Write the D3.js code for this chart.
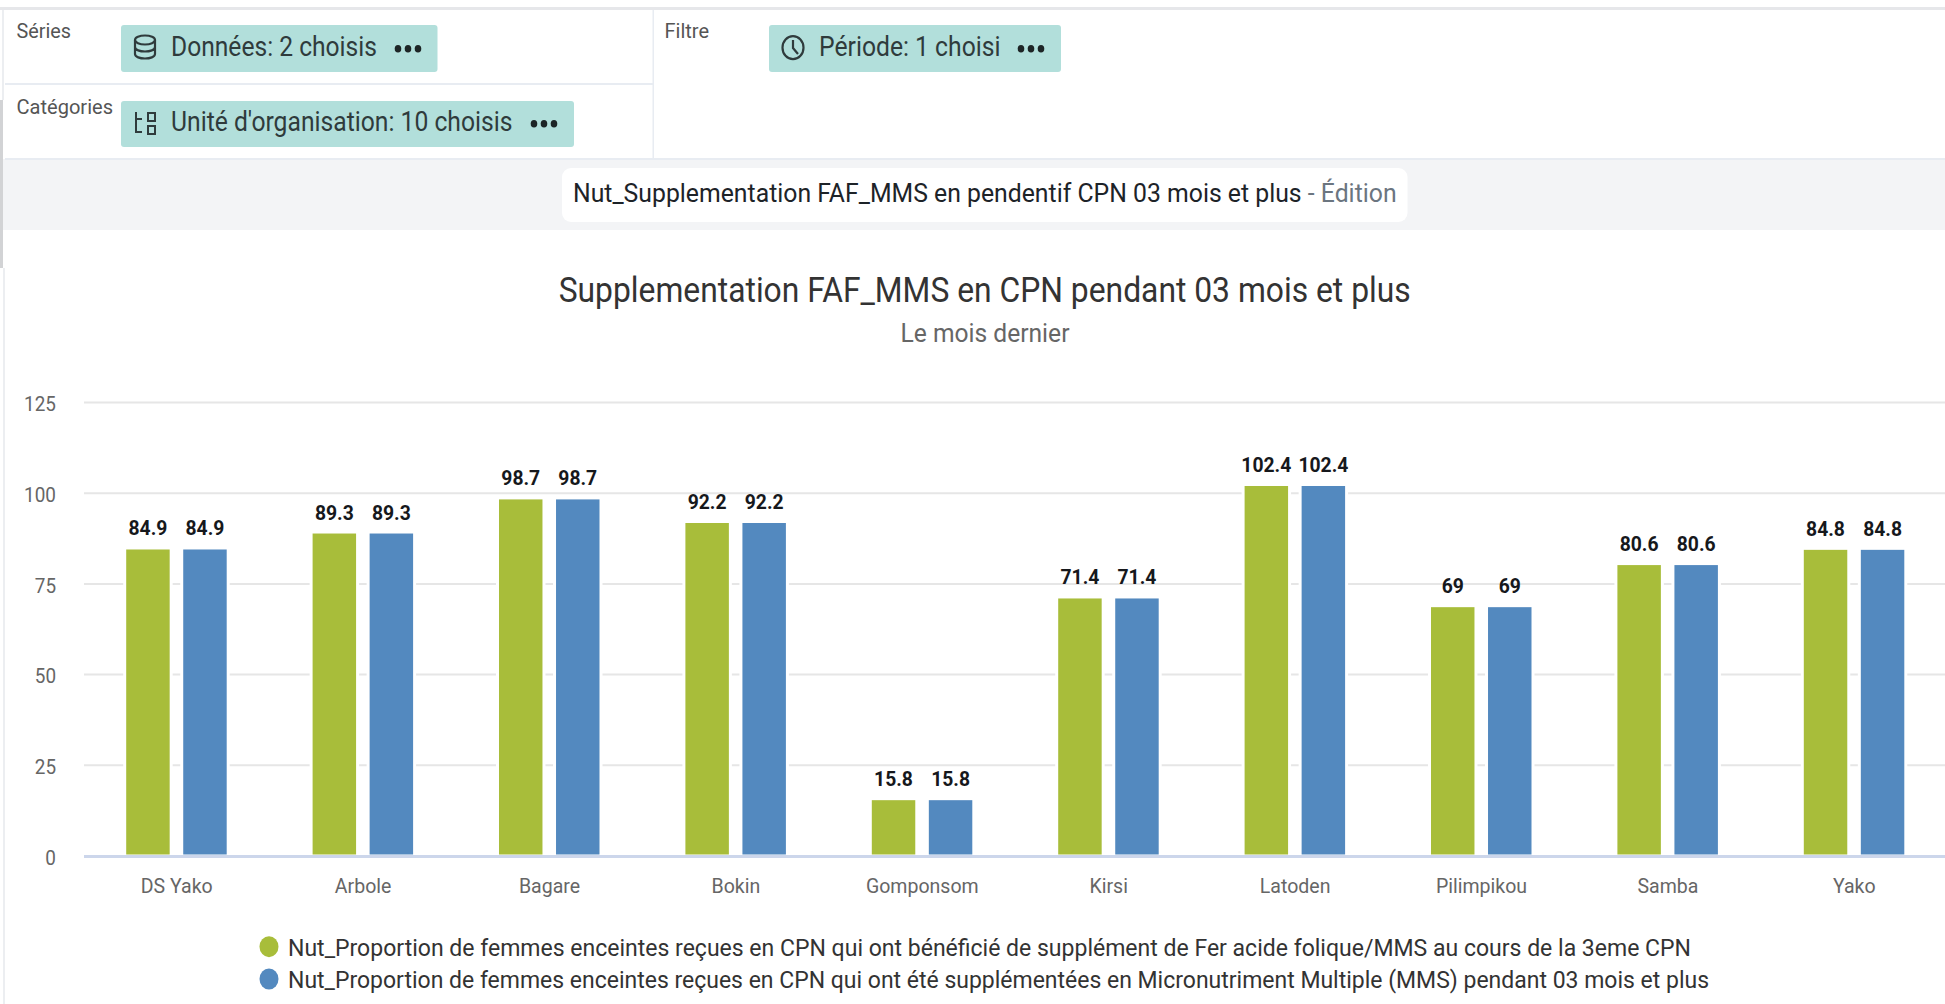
<!DOCTYPE html>
<html lang="fr"><head><meta charset="utf-8">
<script src="https://cdn.jsdelivr.net/npm/d3@7/dist/d3.min.js"></script>
<style>html,body{margin:0;padding:0;background:#fff;overflow:hidden}svg{display:block;font-family:Roboto,sans-serif}</style>
</head><body><svg id="c" width="1945" height="1004"></svg>
<script>
const categories=["DS Yako","Arbole","Bagare","Bokin","Gomponsom","Kirsi","Latoden","Pilimpikou","Samba","Yako"];
const seriesFAF=[84.9,89.3,98.7,92.2,15.8,71.4,102.4,69,80.6,84.8];
const seriesMMS=[84.9,89.3,98.7,92.2,15.8,71.4,102.4,69,80.6,84.8];
const seriesNames=["Nut_Proportion de femmes enceintes reçues en CPN qui ont bénéficié de supplément de Fer acide folique/MMS au cours de la 3eme CPN","Nut_Proportion de femmes enceintes reçues en CPN qui ont été supplémentées en Micronutriment Multiple (MMS) pendant 03 mois et plus"];
const seriesColors=["#a8bd3a","#5389bf"];
const yTicks=[0,25,50,75,100,125];
const svg=d3.select("#c");
const fit=(t,x0,x1)=>t.attr("x",x0).attr("textLength",x1-x0).attr("lengthAdjust","spacingAndGlyphs");
const text=(s,x0,x1,base,size,fill,weight)=>fit(svg.append("text").attr("y",base).attr("font-size",size).attr("fill",fill).attr("font-weight",weight||400).text(s),x0,x1);

// header panel
svg.append("rect").attr("x",0).attr("y",7).attr("width",1945).attr("height",3).attr("fill","#e6e7ea");
svg.append("rect").attr("x",3).attr("y",159).attr("width",1942).attr("height",71).attr("fill","#f3f4f6");
svg.append("rect").attr("x",5).attr("y",83).attr("width",648).attr("height",2).attr("fill","#e8ecf2");
svg.append("rect").attr("x",5).attr("y",158).attr("width",1940).attr("height",2).attr("fill","#e8ecf2");
svg.append("rect").attr("x",652.5).attr("y",10).attr("width",1.5).attr("height",148).attr("fill","#e8ecf2");
svg.append("rect").attr("x",2).attr("y",10).attr("width",2).attr("height",90).attr("fill","#eceef1");
svg.append("rect").attr("x",0).attr("y",100).attr("width",3).attr("height",168).attr("fill","#d2d3d5");
svg.append("rect").attr("x",3).attr("y",268).attr("width",2).attr("height",736).attr("fill","#eceef1");

text("Séries",16.5,71,38,20,"#555");
text("Catégories",16.5,113,114,20,"#555");
text("Filtre",664.5,709,38,20,"#555");

const chips=[[121,25,316.5,47],[121,101,453,46],[769,25,292,47]];
chips.forEach(c=>svg.append("rect").attr("x",c[0]).attr("y",c[1]).attr("width",c[2]).attr("height",c[3]).attr("rx",3).attr("fill","#b2dfdb"));
text("Données: 2 choisis",171,377,56,27,"#2f3b3c");
text("Unité d'organisation: 10 choisis",171,512.5,131,27,"#2f3b3c");
text("Période: 1 choisi",819,1000.5,56,27,"#2f3b3c");
[[408,48.7],[544,123.7],[1031,48.7]].forEach(p=>[-10,0,10].forEach(d=>svg.append("ellipse").attr("cx",p[0]+d).attr("cy",p[1]).attr("rx",3.3).attr("ry",3.8).attr("fill","#1d2526")));
const ic=svg.append("g").attr("fill","none").attr("stroke","#2f3b3c").attr("stroke-width",2.2);
ic.append("ellipse").attr("cx",145).attr("cy",40).attr("rx",10).attr("ry",4.5);
ic.append("path").attr("d","M135 40V54C135 60 155 60 155 54V40M135 47C135 53 155 53 155 47");
ic.append("path").attr("d","M136 112V133M136 119H142M136 132H142").attr("stroke-width",2);
ic.append("rect").attr("x",148).attr("y",113).attr("width",7).attr("height",8).attr("stroke-width",2);
ic.append("rect").attr("x",148).attr("y",126).attr("width",7).attr("height",8).attr("stroke-width",2);
ic.append("ellipse").attr("cx",793).attr("cy",47.7).attr("rx",10.5).attr("ry",11.5);
ic.append("path").attr("d","M793 40V48L798 54");

// title strip
svg.append("rect").attr("x",562).attr("y",168).attr("width",845.5).attr("height",54).attr("rx",9).attr("fill","#fff");
const strip=svg.append("text").attr("y",202).attr("font-size",26).attr("fill","#1d2328");
strip.append("tspan").text("Nut_Supplementation FAF_MMS en pendentif CPN 03 mois et plus");
strip.append("tspan").attr("fill","#6b7580").text(" - Édition");
strip.attr("transform",`translate(573,0) scale(${824/strip.node().getComputedTextLength()},1)`);

// chart
text("Supplementation FAF_MMS en CPN pendant 03 mois et plus",558.7,1410.7,302,35,"#333");
text("Le mois dernier",900.5,1069.5,342,26,"#666");

const y=d3.scaleLinear().domain([0,125]).range([856,402.5]);
const x=d3.scaleBand().domain(categories).range([83.5,1947.5]);
const barInner=d3.scaleBand().domain([0,1]).range([41.2,144.7]).paddingInner(0.185);

const yAxis=svg.append("g").attr("transform","translate(84,1.5)").call(d3.axisLeft(y).tickValues(yTicks).tickSize(0).tickPadding(28));
yAxis.select(".domain").remove();
yAxis.selectAll("text").attr("font-family","Roboto,sans-serif").attr("font-size",21).attr("fill","#666")
  .each(function(){const w=this.getComputedTextLength();d3.select(this).attr("textLength",w*0.9).attr("lengthAdjust","spacingAndGlyphs");});
svg.append("g").selectAll("line").data(yTicks.filter(d=>d>0)).join("line")
  .attr("x1",84).attr("x2",1945).attr("y1",y).attr("y2",y).attr("stroke","#e6e6e6").attr("stroke-width",2);

const bars=svg.append("g");
[seriesFAF,seriesMMS].forEach((vals,i)=>{
  bars.selectAll("rect.s"+i).data(vals).join("rect").attr("class","s"+i)
    .attr("x",(d,k)=>x(categories[k])+barInner(i)).attr("width",barInner.bandwidth())
    .attr("y",d=>y(d)).attr("height",d=>y(0)-y(d)).attr("fill",seriesColors[i])
    .attr("stroke","#fff").attr("stroke-width",3);
  const lab=bars.selectAll("text.l"+i).data(vals).join("text").attr("class","l"+i)
    .attr("x",(d,k)=>x(categories[k])+barInner(i)+barInner.bandwidth()/2).attr("y",d=>y(d)-12.5)
    .attr("text-anchor","middle").attr("font-size",21).attr("font-weight",700).attr("fill","#16181c").text(d=>d);
  lab.each(function(){const w=this.getComputedTextLength();d3.select(this).attr("textLength",w*0.92).attr("lengthAdjust","spacingAndGlyphs");});
});

const xAxis=svg.append("g").attr("transform","translate(0,856)").call(d3.axisBottom(x).tickSize(0).tickPadding(22));
xAxis.select(".domain").attr("stroke","#ccd6eb").attr("stroke-width",3);
xAxis.selectAll("text").attr("font-family","Roboto,sans-serif").attr("font-size",21).attr("fill","#666")
  .each(function(){const w=this.getComputedTextLength();d3.select(this).attr("textLength",w*0.93).attr("lengthAdjust","spacingAndGlyphs");});

// legend
const legendY=[946.7,979],legendBase=[956,988],legendEnd=[1691,1709];
seriesNames.forEach((s,i)=>{
  svg.append("ellipse").attr("cx",269).attr("cy",legendY[i]).attr("rx",9.5).attr("ry",10.5).attr("fill",seriesColors[i]);
  text(s,288,legendEnd[i],legendBase[i],23,"#333");
});
</script></body></html>
